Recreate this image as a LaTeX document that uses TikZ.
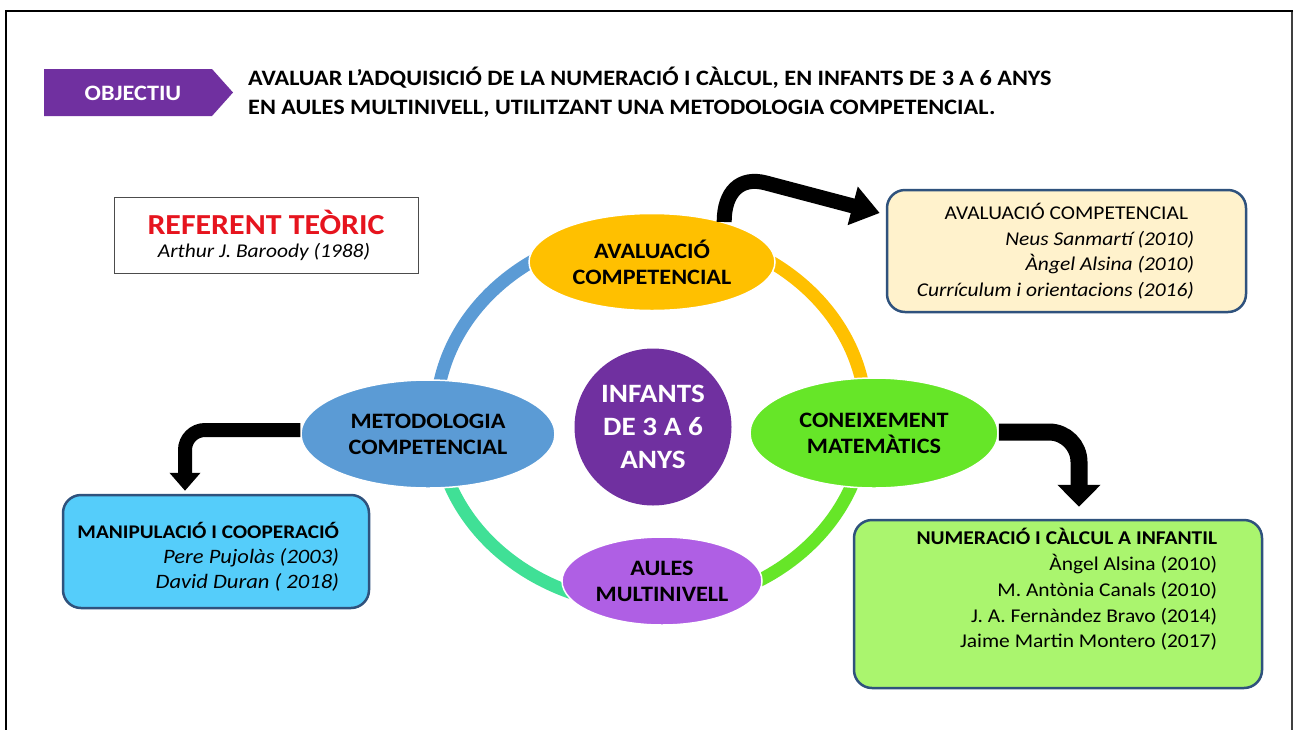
\documentclass[tikz,border=0pt]{standalone}
\usepackage{fontspec}
\setmainfont{Carlito}[FakeStretch=1.1]
\usetikzlibrary{arrows.meta,shapes.geometric,calc}
\definecolor{objpurple}{RGB}{112,48,160}
\definecolor{ryellow}{RGB}{255,192,0}
\definecolor{rblue}{RGB}{91,155,213}
\definecolor{rgreen}{RGB}{102,230,40}
\definecolor{rteal}{RGB}{64,224,150}
\definecolor{rlav}{RGB}{175,95,228}
\definecolor{boxborder}{RGB}{47,82,125}
\definecolor{fillcream}{RGB}{255,242,204}
\definecolor{fillsky}{RGB}{85,205,250}
\definecolor{filllime}{RGB}{170,245,110}
\definecolor{refred}{RGB}{230,20,30}
\begin{document}
\begin{tikzpicture}[x=1pt,y=-1pt,
  bubble/.style={ellipse, inner sep=0pt, draw=white, line width=1.5pt,
    font=\fontsize{22}{26}\selectfont\bfseries, align=center, text=black},
  refbox/.style={draw=boxborder, line width=2.5pt, rounded corners=18pt, inner sep=0pt},
  ringarc/.style={line width=13pt},
  bigarrow/.style={draw=black, line width=15pt},
  boxtext/.style={inner sep=0pt, align=right, anchor=east, font=\fontsize{19.5}{25.5}\selectfont}
]
\useasboundingbox (0,0) rectangle (1295,729);
\fill[white] (0,0) rectangle (1295,729);
% frame
\draw[line width=1.2pt, black!75] (1292,11) -- (1292,735);
\draw[line width=2pt] (1293,11) -- (6,11);
\draw[line width=2.6pt] (6,10) -- (6,735);

% objective
\fill[objpurple] (44,69) -- (212,69) -- (233,92.5) -- (212,116) -- (44,116) -- cycle;
\node[text=white, font=\fontsize{22}{24}\selectfont\bfseries, inner sep=0pt] (obj) at (133,93) {OBJECTIU};
\node[anchor=west, align=left, inner sep=0pt, font=\fontsize{22}{29}\selectfont\bfseries] (title) at (248,92.5)
  {AVALUAR L’ADQUISICIÓ DE LA NUMERACIÓ I CÀLCUL, EN INFANTS DE 3 A 6 ANYS\\
   EN AULES MULTINIVELL, UTILITZANT UNA METODOLOGIA COMPETENCIAL.};

% referent
\node[draw=black!70, line width=0.8pt, fill=white, minimum width=304pt, minimum height=76pt, inner sep=0pt] (refbox) at (266,235) {};
\node[text=refred, font=\fontsize{29}{31}\selectfont\bfseries, inner sep=0pt] (reft) at (266,222) {REFERENT TEÒRIC};
\node[font=\fontsize{19.5}{22}\selectfont\itshape, inner sep=0pt] (refa) at (264,252) {Arthur J. Baroody (1988)};

% ring
\coordinate (rc) at (651,418);
\draw[ringarc, rblue]   (rc) ++(180:215pt and 188pt) arc[start angle=180, end angle=90, x radius=215pt, y radius=188pt];
\draw[ringarc, ryellow] (rc) ++(90:215pt and 188pt) arc[start angle=90, end angle=0, x radius=215pt, y radius=188pt];
\draw[ringarc, rgreen]  (rc) ++(0:215pt and 188pt) arc[start angle=0, end angle=-90, x radius=215pt, y radius=188pt];
\draw[ringarc, rteal]   (rc) ++(-90:215pt and 188pt) arc[start angle=-90, end angle=-180, x radius=215pt, y radius=188pt];

% bubbles
\node[bubble, fill=ryellow, minimum width=246pt, minimum height=97pt] (aval) at (652,262) {AVALUACIÓ\\COMPETENCIAL};
\node[bubble, fill=rblue, minimum width=254pt, minimum height=108pt] (meto) at (428,434) {METODOLOGIA\\COMPETENCIAL};
\node[bubble, fill=rgreen, minimum width=248pt, minimum height=110pt] (coneix) at (874,433) {CONEIXEMENT\\MATEMÀTICS};
\node[bubble, fill=rlav, minimum width=200pt, minimum height=88pt] (aules) at (662,581) {AULES\\MULTINIVELL};
\node[circle, fill=objpurple, minimum size=157pt, inner sep=0pt, text=white, align=center,
  font=\fontsize{26.5}{33}\selectfont\bfseries] (infants) at (653,427) {INFANTS\\DE 3 A 6\\ANYS};

% boxes
\node[refbox, fill=fillcream, minimum width=359pt, minimum height=122pt] (avbox) at (1066.5,251) {};
\node[boxtext] (avtext) at ([xshift=-53pt,yshift=0pt]avbox.east)
  {AVALUACIÓ COMPETENCIAL\hspace*{6pt}\\\itshape Neus Sanmartí (2010)\\\itshape Àngel Alsina (2010)\\\itshape Currículum i orientacions (2016)};

\node[refbox, fill=fillsky, minimum width=306pt, minimum height=113pt] (manbox) at (216,551.5) {};
\node[boxtext, font=\fontsize{20.5}{25}\selectfont] (mantext) at ([xshift=-31pt,yshift=-5.5pt]manbox.east)
  {\fontsize{19.3}{25}\selectfont\bfseries MANIPULACIÓ I COOPERACIÓ\\\itshape Pere Pujolàs (2003)\\\itshape David Duran ( 2018)};

\node[refbox, fill=filllime, minimum width=408pt, minimum height=168pt] (numbox) at (1058,604) {};
\node[boxtext, font=\fontsize{19.5}{25.7}\selectfont] (numtext) at ([xshift=-46pt,yshift=14.5pt]numbox.east)
  {\bfseries NUMERACIÓ I CÀLCUL A INFANTIL\\Àngel Alsina (2010)\\M. Antònia Canals (2010)\\J. A. Fernàndez Bravo (2014)\\Jaime Martin Montero (2017)};

% arrows
\draw[bigarrow, -{Triangle[width=38pt,length=28pt]}]
  (aval.29) .. controls +(0,-30) and (740,176) .. (766,183) -- ([xshift=-6pt,yshift=38pt]avbox.west);
\draw[bigarrow, line width=14pt, rounded corners=20pt, -{Triangle[width=30pt,length=18pt]}]
  ([yshift=4pt]meto.west) -| ([xshift=-31pt,yshift=3pt]manbox.north);
\draw[bigarrow, line width=17pt, rounded corners=30pt, -{Triangle[width=42pt,length=22pt]}]
  ([yshift=1pt]coneix.east) -| ([xshift=21pt,yshift=12pt]numbox.north);
\end{tikzpicture}
\end{document}
